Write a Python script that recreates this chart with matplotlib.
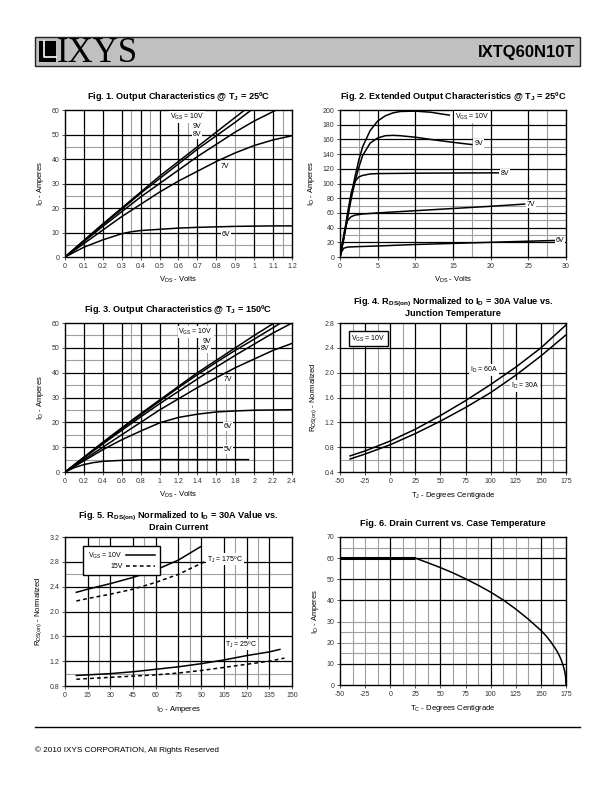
import matplotlib.pyplot as plt
from matplotlib.patches import Rectangle

plt.rcParams['font.family'] = ['Liberation Sans', 'DejaVu Sans']
plt.rcParams['mathtext.default'] = 'regular'

# ---------------- data ----------------
# Fig 1 - output characteristics @ 25C (VDS volts, ID amps)
f1_10v_x = [0, 0.1, 0.2, 0.3, 0.4, 0.5, 0.6, 0.7, 0.8, 0.9, 0.95]
f1_10v_y = [0, 6.8, 13.5, 20, 26.5, 33, 39, 45, 51, 57, 60]
f1_9v_x = [0, 0.1, 0.2, 0.3, 0.4, 0.5, 0.6, 0.7, 0.8, 0.9, 0.985]
f1_9v_y = [0, 6.6, 13.2, 19.5, 26, 32, 38, 44, 49.5, 55, 60]
f1_8v_x = [0, 0.1, 0.2, 0.3, 0.4, 0.5, 0.6, 0.7, 0.8, 0.9, 1.0, 1.117]
f1_8v_y = [0, 6.3, 12.5, 18.5, 24.5, 30, 35.5, 41, 46, 51, 55.5, 60]
f1_7v_x = [0, 0.1, 0.2, 0.3, 0.4, 0.5, 0.6, 0.7, 0.8, 0.9, 1.0, 1.1, 1.2]
f1_7v_y = [0, 5.5, 11, 16.5, 21.5, 26.5, 31, 35, 39, 42.5, 45.5, 47.8, 49.5]
f1_6v_x = [0, 0.1, 0.2, 0.3, 0.35, 0.4, 0.5, 0.6, 0.7, 0.8, 0.9, 1.0, 1.1, 1.2]
f1_6v_y = [0, 4, 7, 9.5, 10.3, 10.8, 11.3, 11.8, 12.1, 12.3, 12.5, 12.6, 12.7, 12.7]

# Fig 2 - extended output characteristics @ 25C
f2_10v_x = [0, 0.5, 1, 1.5, 2, 2.5, 3, 4, 5, 6, 7, 8, 10, 12, 14.5]
f2_10v_y = [0, 25, 55, 85, 110, 132, 150, 172, 185, 192, 196, 198, 198.5, 197, 193]
f2_9v_x = [0, 0.5, 1, 1.5, 2, 2.5, 3, 4, 5, 6, 7, 8, 10, 12, 15, 17.5]
f2_9v_y = [0, 25, 53, 80, 103, 122, 138, 155, 162, 165, 165.5, 165, 163, 160, 156, 153]
f2_8v_x = [0, 0.5, 1, 1.5, 2, 2.5, 3, 4, 5, 10, 15, 21]
f2_8v_y = [0, 28, 60, 88, 103, 109, 111, 113, 113.5, 114, 114.3, 114.5]
f2_7v_x = [0, 0.3, 0.6, 1, 1.5, 2, 3, 5, 10, 15, 20, 24.5]
f2_7v_y = [0, 18, 36, 50, 55, 57, 58.5, 60, 63, 66, 69, 72]
f2_6v_x = [0, 0.2, 0.5, 1, 2, 5, 10, 15, 20, 25, 28.5]
f2_6v_y = [0, 7, 12, 13.5, 14, 15, 17, 18.5, 20, 21.5, 22.5]

# Fig 3 - output characteristics @ 150C
f3_10v_x = [0, 0.2, 0.4, 0.6, 0.8, 1.0, 1.2, 1.4, 1.6, 1.8, 2.0, 2.21]
f3_10v_y = [0, 6, 12, 17.8, 23.5, 29, 34.5, 40, 45, 50, 55, 60]
f3_9v_x = [0, 0.2, 0.4, 0.6, 0.8, 1.0, 1.2, 1.4, 1.6, 1.8, 2.0, 2.28]
f3_9v_y = [0, 5.9, 11.7, 17.4, 23, 28.5, 34, 39.2, 44.2, 49, 53.5, 60]
f3_8v_x = [0, 0.2, 0.4, 0.6, 0.8, 1.0, 1.2, 1.4, 1.6, 1.8, 2.0, 2.2, 2.4]
f3_8v_y = [0, 5.7, 11.3, 16.8, 22.2, 27.5, 32.5, 37.5, 42.3, 47, 51.5, 56, 60]
f3_7v_x = [0, 0.2, 0.4, 0.6, 0.8, 1.0, 1.2, 1.4, 1.6, 1.8, 2.0, 2.2, 2.4]
f3_7v_y = [0, 5, 10, 15, 20, 25, 29.5, 34, 38, 42, 45.5, 49, 51.8]
f3_6v_x = [0, 0.2, 0.4, 0.6, 0.8, 1.0, 1.2, 1.4, 1.6, 1.8, 2.0, 2.2, 2.4]
f3_6v_y = [0, 4.5, 9, 13, 16.5, 19.8, 22, 23.3, 24.2, 24.6, 24.9, 25, 25.1]
f3_5v_x = [0, 0.1, 0.2, 0.3, 0.4, 0.6, 0.8, 1.0, 1.4, 1.94]
f3_5v_y = [0, 1.8, 3, 3.8, 4.3, 4.7, 4.9, 5.0, 5.0, 5.0]

# Fig 4 - RDS(on) normalized vs junction temperature
f4_temp = [-40, -25, 0, 25, 50, 75, 100, 125, 150, 175]
f4_60a = [0.66, 0.74, 0.90, 1.09, 1.31, 1.55, 1.81, 2.09, 2.40, 2.77]
f4_30a = [0.61, 0.69, 0.84, 1.02, 1.22, 1.44, 1.68, 1.96, 2.27, 2.61]

# Fig 5 - RDS(on) normalized vs drain current
f5_175_10v_x = [7.5, 15, 30, 45, 60, 75, 90]
f5_175_10v_y = [2.31, 2.36, 2.45, 2.55, 2.67, 2.83, 3.05]
f5_175_15v_x = [7.5, 15, 30, 45, 60, 75, 92]
f5_175_15v_y = [2.17, 2.21, 2.28, 2.36, 2.47, 2.60, 2.80]
f5_25_10v_x = [7.5, 15, 30, 45, 60, 75, 90, 105, 120, 135, 142]
f5_25_10v_y = [0.97, 0.98, 1.0, 1.03, 1.07, 1.11, 1.16, 1.22, 1.29, 1.35, 1.39]
f5_25_15v_x = [7.5, 15, 30, 45, 60, 75, 90, 105, 120, 135, 145]
f5_25_15v_y = [0.91, 0.92, 0.94, 0.96, 0.98, 1.01, 1.05, 1.10, 1.15, 1.20, 1.25]

# Fig 6 - drain current vs case temperature
f6_flat_t = [-50, 25]
f6_flat_id = [60, 60]
f6_temp = [25, 37.5, 50, 62.5, 75, 87.5, 100, 112.5, 125, 137.5, 150, 155, 160, 165,
           168, 170, 172, 173.5, 174.5, 175]
f6_id = [60, 57.8, 55.5, 53, 50.2, 47.2, 43.9, 40.2, 35.9, 31.1, 25.8, 23.3, 20.3, 16.8,
         14.2, 12.1, 9.4, 6.8, 4.2, 0]

# tick labels
f1_xticks = [0, 0.1, 0.2, 0.3, 0.4, 0.5, 0.6, 0.7, 0.8, 0.9, 1.0, 1.1, 1.2]
f1_xlabels = ['0', '0.1', '0.2', '0.3', '0.4', '0.5', '0.6', '0.7', '0.8', '0.9', '1', '1.1', '1.2']
f3_xticks = [0, 0.2, 0.4, 0.6, 0.8, 1.0, 1.2, 1.4, 1.6, 1.8, 2.0, 2.2, 2.4]
f3_xlabels = ['0', '0.2', '0.4', '0.6', '0.8', '1', '1.2', '1.4', '1.6', '1.8', '2', '2.2', '2.4']
id60_ticks = [0, 10, 20, 30, 40, 50, 60]
f2_xticks = [0, 5, 10, 15, 20, 25, 30]
f2_yticks = [0, 20, 40, 60, 80, 100, 120, 140, 160, 180, 200]
temp_ticks = [-50, -25, 0, 25, 50, 75, 100, 125, 150, 175]
f4_yticks = [0.4, 0.8, 1.2, 1.6, 2.0, 2.4, 2.8]
f4_ylabels = ['0.4', '0.8', '1.2', '1.6', '2.0', '2.4', '2.8']
f5_xticks = [0, 15, 30, 45, 60, 75, 90, 105, 120, 135, 150]
f5_yticks = [0.8, 1.2, 1.6, 2.0, 2.4, 2.8, 3.2]
f5_ylabels = ['0.8', '1.2', '1.6', '2.0', '2.4', '2.8', '3.2']
f6_yticks = [0, 10, 20, 30, 40, 50, 60, 70]

GRAY = '#a0a0a0'
LW = 1.1


def setup(ax, xlim, ylim, xt, xl, yt, yl, bx, gx, by, gy):
    ax.set_xlim(*xlim)
    ax.set_ylim(*ylim)
    for v in gx:
        ax.axvline(v, color=GRAY, lw=0.8, zorder=1)
    for v in gy:
        ax.axhline(v, color=GRAY, lw=0.8, zorder=1)
    for v in bx:
        ax.axvline(v, color='black', lw=0.9, zorder=1.5)
    for v in by:
        ax.axhline(v, color='black', lw=0.9, zorder=1.5)
    ax.set_xticks(xt)
    ax.set_xticklabels(xl)
    ax.set_yticks(yt)
    ax.set_yticklabels(yl)
    ax.tick_params(labelsize=5, length=2, width=0.6, pad=2, colors='#333333')
    for s in ax.spines.values():
        s.set_linewidth(1.0)


def lab(ax, x, y, s, **kw):
    ax.text(x, y, s, fontsize=5, zorder=4,
            bbox=dict(fc='white', ec='none', pad=0.6), **kw)


fig = plt.figure(figsize=(6.12, 7.92), dpi=100)

# header / footer drawn in page pixel coordinates
page = fig.add_axes([0, 0, 1, 1])
page.set_xlim(0, 612)
page.set_ylim(792, 0)
page.axis('off')
page.add_patch(Rectangle((35, 37), 545, 29, fc='#c0c0c0', ec='#222222', lw=1))
page.add_patch(Rectangle((39, 41), 17, 21, fc='black', ec='none'))
page.plot([44, 44, 56], [41, 57, 57], color='white', lw=1.2)
page.text(57, 62, 'IXYS', family='Liberation Serif', fontsize=25, va='baseline')
page.text(575, 52, 'IXTQ60N10T', fontsize=12, fontweight='bold', ha='right', va='center')
page.plot([35, 580], [727, 727], color='black', lw=1)
page.text(35, 750, '\u00a9 2010 IXYS CORPORATION, All Rights Reserved', fontsize=5.9, va='center')

tfont = dict(fontsize=6.6, fontweight='bold')
afont = dict(fontsize=5.5)

# Fig 1
ax1 = fig.add_axes([0.1062, 0.6755, 0.3709, 0.1856])
setup(ax1, (0, 1.2), (0, 60), f1_xticks, f1_xlabels, id60_ticks, [str(t) for t in id60_ticks],
      [0.1, 0.2, 0.3, 0.4, 0.5, 0.6, 0.7, 0.8, 1.0, 1.1], [0.35, 0.45, 0.65, 0.9, 1.15],
      [10, 20, 30, 40, 50], [5, 25, 45])
for x, y in [(f1_10v_x, f1_10v_y), (f1_9v_x, f1_9v_y), (f1_8v_x, f1_8v_y),
             (f1_7v_x, f1_7v_y), (f1_6v_x, f1_6v_y)]:
    ax1.plot(x, y, color='black', lw=LW, zorder=3)
lab(ax1, 0.555, 56.5, 'V$_{GS}$ = 10V')
lab(ax1, 0.675, 52.8, '9V')
lab(ax1, 0.675, 49.5, '8V')
lab(ax1, 0.825, 36.5, '7V')
lab(ax1, 0.83, 8.5, '6V')
ax1.set_title('Fig. 1. Output Characteristics @ T$_J$ = 25\u00baC', pad=8, **tfont)
ax1.set_xlabel('V$_{DS}$ - Volts', labelpad=4, **afont)
ax1.set_ylabel('I$_D$ - Amperes', labelpad=4, **afont)

# Fig 2
ax2 = fig.add_axes([0.5556, 0.6755, 0.3693, 0.1856])
setup(ax2, (0, 30), (0, 200), f2_xticks, [str(t) for t in f2_xticks], f2_yticks,
      [str(t) for t in f2_yticks],
      [5, 10, 15, 20, 25], [2.5, 17.5, 27.5],
      [20, 40, 60, 80, 100, 120, 140, 160, 180], [30, 50, 70, 90, 150])
for x, y in [(f2_10v_x, f2_10v_y), (f2_9v_x, f2_9v_y), (f2_8v_x, f2_8v_y),
             (f2_7v_x, f2_7v_y), (f2_6v_x, f2_6v_y)]:
    ax2.plot(x, y, color='black', lw=LW, zorder=3)
lab(ax2, 15.2, 188, 'V$_{GS}$ = 10V')
lab(ax2, 17.8, 152, '9V')
lab(ax2, 21.3, 112, '8V')
lab(ax2, 24.8, 70, '7V')
lab(ax2, 28.6, 21, '6V')
ax2.set_title('Fig. 2. Extended Output Characteristics @ T$_J$ = 25\u00baC', pad=8, **tfont)
ax2.set_xlabel('V$_{DS}$ - Volts', labelpad=4, **afont)
ax2.set_ylabel('I$_D$ - Amperes', labelpad=4, **afont)

# Fig 3
ax3 = fig.add_axes([0.1062, 0.4040, 0.3709, 0.1881])
setup(ax3, (0, 2.4), (0, 60), f3_xticks, f3_xlabels, id60_ticks, [str(t) for t in id60_ticks],
      [0.2, 0.4, 0.6, 0.8, 1.0, 1.2, 1.4, 1.6, 1.8, 2.0, 2.2], [0.7, 1.3, 1.5, 1.7],
      [10, 20, 30, 40, 50], [5, 15, 25, 35, 45, 55])
for x, y in [(f3_10v_x, f3_10v_y), (f3_9v_x, f3_9v_y), (f3_8v_x, f3_8v_y),
             (f3_7v_x, f3_7v_y), (f3_6v_x, f3_6v_y), (f3_5v_x, f3_5v_y)]:
    ax3.plot(x, y, color='black', lw=LW, zorder=3)
lab(ax3, 1.2, 55.8, 'V$_{GS}$ = 10V')
lab(ax3, 1.46, 52, '9V')
lab(ax3, 1.44, 49, '8V')
lab(ax3, 1.68, 36.5, '7V')
lab(ax3, 1.68, 17.8, '6V')
lab(ax3, 1.68, 8.6, '5V')
ax3.set_title('Fig. 3. Output Characteristics @ T$_J$ = 150\u00baC', pad=8, **tfont)
ax3.set_xlabel('V$_{DS}$ - Volts', labelpad=4, **afont)
ax3.set_ylabel('I$_D$ - Amperes', labelpad=4, **afont)

# Fig 4
ax4 = fig.add_axes([0.5556, 0.4040, 0.3693, 0.1881])
setup(ax4, (-50, 175), (0.4, 2.8), temp_ticks, [str(t) for t in temp_ticks], f4_yticks, f4_ylabels,
      [-25, 0, 25, 50, 75, 100, 125, 150], [-37.5, -12.5, 12.5, 112.5, 162.5],
      [0.8, 1.2, 1.6, 2.0, 2.4], [0.6, 1.8])
ax4.plot(f4_temp, f4_60a, color='black', lw=LW, zorder=3)
ax4.plot(f4_temp, f4_30a, color='black', lw=LW, zorder=3)
ax4.text(-39, 2.55, 'V$_{GS}$ = 10V', fontsize=5, zorder=4, va='center',
         bbox=dict(fc='white', ec='black', lw=1, pad=1.5))
lab(ax4, 79, 2.04, 'I$_D$ = 60A', va='center')
lab(ax4, 120, 1.78, 'I$_D$ = 30A', va='center')
ax4.set_title('Fig. 4. R$_{DS(on)}$ Normalized to I$_D$ = 30A Value vs.\nJunction Temperature',
              pad=5, linespacing=1.0, **tfont)
ax4.set_xlabel('T$_J$ - Degrees Centigrade', labelpad=4, **afont)
ax4.set_ylabel('R$_{DS(on)}$ - Normalized', labelpad=4, **afont)

# Fig 5
ax5 = fig.add_axes([0.1062, 0.1338, 0.3709, 0.1881])
setup(ax5, (0, 150), (0.8, 3.2), f5_xticks, [str(t) for t in f5_xticks], f5_yticks, f5_ylabels,
      [15, 30, 45, 60, 75, 90, 105, 120, 135], [22.5, 52.5, 82.5, 112.5, 127.5],
      [1.2, 1.6, 2.0, 2.4, 2.8], [1.0, 2.6])
l10, = ax5.plot(f5_175_10v_x, f5_175_10v_y, color='black', lw=LW, zorder=3)
l15, = ax5.plot(f5_175_15v_x, f5_175_15v_y, color='black', lw=LW, ls=(0, (2.5, 2)), zorder=3)
ax5.plot(f5_25_10v_x, f5_25_10v_y, color='black', lw=LW, zorder=3)
ax5.plot(f5_25_15v_x, f5_25_15v_y, color='black', lw=LW, ls=(0, (2.5, 2)), zorder=3)
leg = ax5.legend([l10, l15], ['V$_{GS}$ = 10V', '15V'], loc='upper left', bbox_to_anchor=(0.065, 0.965),
                 fontsize=5, markerfirst=False, fancybox=False, framealpha=1, edgecolor='black',
                 handlelength=4.2, handletextpad=0.5, borderpad=0.7, labelspacing=0.35)
leg.get_frame().set_linewidth(1)
leg.set_zorder(5)
for t in leg.get_texts():
    t.set_ha('right')
lab(ax5, 94, 2.84, 'T$_J$ = 175\u00baC', va='center')
lab(ax5, 106, 1.47, 'T$_J$ = 25\u00baC', va='center')
ax5.set_title('Fig. 5. R$_{DS(on)}$ Normalized to I$_D$ = 30A Value vs.\nDrain Current',
              pad=5, linespacing=1.0, **tfont)
ax5.set_xlabel('I$_D$ - Amperes', labelpad=4, **afont)
ax5.set_ylabel('R$_{DS(on)}$ - Normalized', labelpad=4, **afont)

# Fig 6
ax6 = fig.add_axes([0.5556, 0.1351, 0.3693, 0.1869])
setup(ax6, (-50, 175), (0, 70), temp_ticks, [str(t) for t in temp_ticks], f6_yticks,
      [str(t) for t in f6_yticks],
      [0, 50, 100, 150],
      [-37.5, -25, -12.5, 12.5, 25, 37.5, 62.5, 75, 87.5, 112.5, 125, 137.5, 162.5],
      [10, 40, 50, 60], [15, 20, 25, 30, 65])
ax6.plot(f6_flat_t, f6_flat_id, color='black', lw=2.2, zorder=3, solid_capstyle='butt')
ax6.plot(f6_temp, f6_id, color='black', lw=LW, zorder=3)
ax6.set_title('Fig. 6. Drain Current vs. Case Temperature', pad=8, **tfont)
ax6.set_xlabel('T$_C$ - Degrees Centigrade', labelpad=4, **afont)
ax6.set_ylabel('I$_D$ - Amperes', labelpad=4, **afont)

plt.savefig('out.png', dpi=100)
plt.close()
